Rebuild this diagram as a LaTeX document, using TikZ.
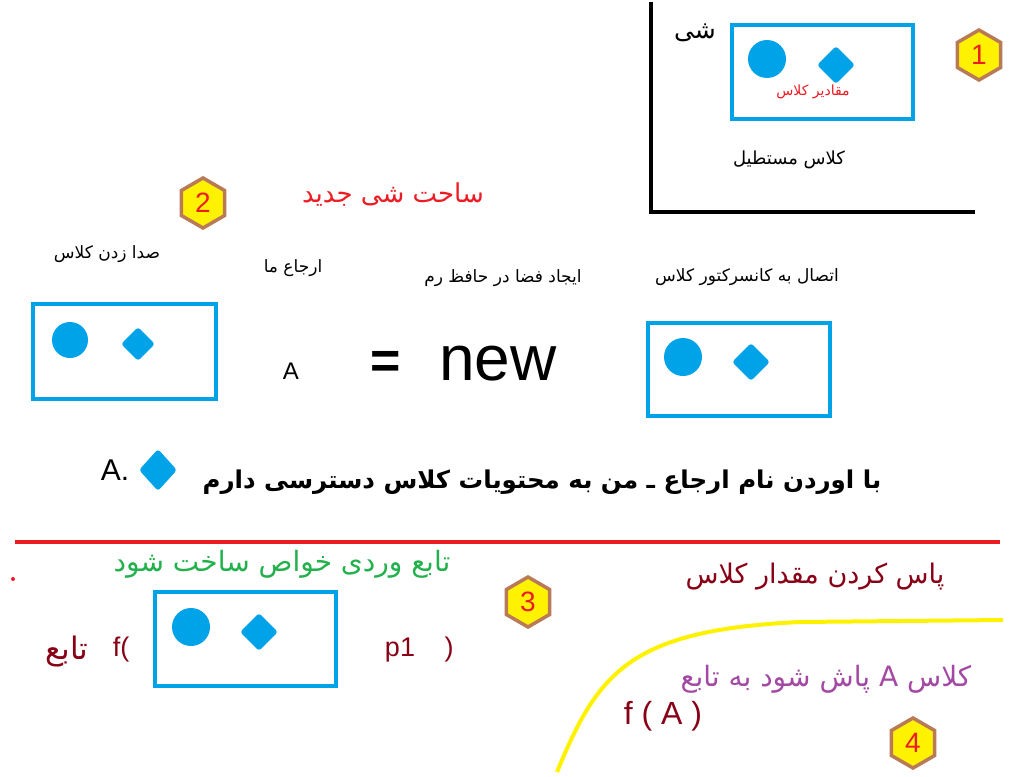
\documentclass[tikz,border=0pt]{standalone}
\usepackage{fontspec}
\setmainfont{Liberation Sans}
\newfontfamily\fa[Script=Arabic]{DejaVu Sans}
\TeXXeTstate=1
\usetikzlibrary{shapes.geometric}
\definecolor{pblue}{HTML}{00A2E8}
\definecolor{pred}{HTML}{ED1C24}
\definecolor{dred}{HTML}{880015}
\definecolor{pgreen}{HTML}{22B14C}
\definecolor{ppurple}{HTML}{A349A4}
\definecolor{pyellow}{HTML}{FFF200}
\definecolor{pbrown}{HTML}{B97A57}
\newcommand{\fsz}[1]{\fontsize{#1}{#1}\selectfont}
\tikzset{
  objbox/.style={draw=pblue, line width=4.5pt, inner sep=0pt},
  dot/.style={circle, fill=pblue, minimum size=38pt, inner sep=0pt},
  gem/.style={diamond, fill=pblue, rounded corners=3pt, minimum size=38pt, inner sep=0pt},
  hexa/.style={regular polygon, regular polygon sides=6, shape border rotate=30,
    draw=pbrown, fill=pyellow, line width=3.5pt, minimum size=50pt, inner sep=0pt,
    text=pred, font=\fsz{28}},
  fatxt/.style={font=\fa\fsz{#1}, inner sep=0pt},
  fatxt/.default=16
}
\begin{document}
\begin{tikzpicture}[x=1pt, y=-1pt]
    \useasboundingbox (0,0) rectangle (1030,776);

    % Object frame
    \draw[line width=4pt] (651,2) -- (651,212) -- (975,212);
    \node[objbox, minimum width=181pt, minimum height=94pt] (obj) at (822.5,72) {};
    \node[dot] (objdot) at (767,59) {};
    \node[gem] (objgem) at (836,65) {};
    \node[fatxt=14, text=pred] (objval) at (813,92) {\beginR مقادیر کلاس\endR};
    \node[fatxt=25] (shey) at (695,33) {\beginR شی\endR};
    \node[fatxt=18] (rect) at (789,160) {\beginR کلاس مستطیل\endR};
    \node[hexa] (h1) at (979,55) {1};

    % New object
    \node[hexa] (h2) at (203,203) {2};
    \node[fatxt=26, text=pred] (title) at (393,195) {\beginR ساحت شی جدید\endR};
    \node[fatxt=17] (call) at (107,254) {\beginR صدا زدن کلاس\endR};
    \node[fatxt=17] (ref) at (293,268) {\beginR ارجاع  ما\endR};
    \node[fatxt=17] (mem) at (503,278) {\beginR ایجاد فضا در حافظ  رم\endR};
    \node[fatxt=17] (ctor) at (747,277) {\beginR اتصال به کانسرکتور کلاس\endR};

    \node[objbox, minimum width=183pt, minimum height=95pt] (lbox) at (124.5,351.5) {};
    \node[dot, minimum size=36pt] (ldot) at (70,340) {};
    \node[gem, minimum size=34pt] (lgem) at (138,344) {};
    \node[font=\fsz{24}] (a) at (291,371) {A};
    \node[font=\bfseries\fsz{52}] (eq) at (386,365) {=};
    \node[font=\fsz{64}] (new) at (498,364) {new};
    \node[objbox, minimum width=182pt, minimum height=93pt] (rbox) at (739,369.5) {};
    \node[dot] (rdot) at (683,357) {};
    \node[gem] (rgem) at (751,362) {};

    % Access
    \node[font=\fsz{30}] (adot) at (115,470) {A.};
    \node[diamond, fill=pblue, rounded corners=3pt, minimum width=38pt, minimum height=42pt, inner sep=0pt] (agem) at (158,470) {};
    \node[font=\fa\bfseries\fsz{24.5}, inner sep=0pt] (access) at (542,482) {\beginR با اوردن نام ارجاع ـ من به محتویات کلاس دسترسی دارم\endR};

    \draw[pred, line width=4pt] (15,542) -- (1000,542);

    % Function argument
    \node[fill=pred, circle, minimum size=4pt, inner sep=0pt] (rdotm) at (13,579) {};
    \node[fatxt=28, text=pgreen] (prop) at (282,564) {\beginR تابع وردی خواص ساخت شود\endR};
    \node[objbox, minimum width=181pt, minimum height=94pt] (fbox) at (245.5,639) {};
    \node[dot] (fdot) at (191,627) {};
    \node[gem] (fgem) at (259,632) {};
    \node[fatxt=31, text=dred] (tabe) at (67,651) {\beginR تابع\endR};
    \node[font=\fsz{27}, text=dred] (fopen) at (121,650) {f(};
    \node[font=\fsz{27}, text=dred] (p1) at (400,650) {p1};
    \node[font=\fsz{27}, text=dred] (fclose) at (449,650) {)};
    \node[hexa] (h3) at (528,602) {3};

    % Passing
    \node[fatxt=27, text=dred] (pass) at (815,577) {\beginR پاس کردن مقدار کلاس\endR};
    \draw[pyellow, line width=4pt] (557,772) .. controls (598,672) and (630,630) .. (800,622) -- (1003,620);
    \node[fatxt=28, text=ppurple] (passa) at (826,679) {\beginR کلاس A پاش شود به تابع\endR};
    \node[font=\fsz{32}, text=dred] (fa) at (663,716) {f ( A )};
    \node[hexa] (h4) at (913,743) {4};
\end{tikzpicture}
\end{document}
